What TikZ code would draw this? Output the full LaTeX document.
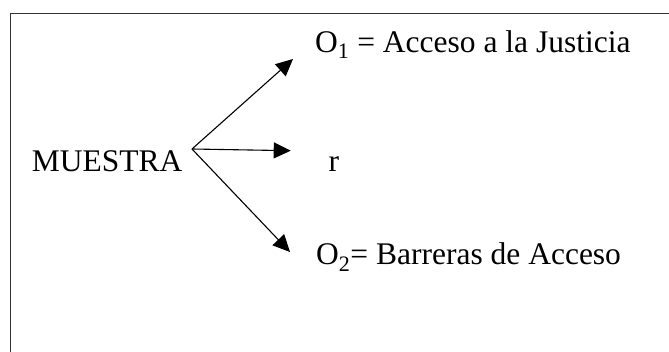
\documentclass[tikz,border=0pt]{standalone}
\usepackage{fontspec}
\setmainfont{Liberation Serif}
\usetikzlibrary{arrows.meta}
\begin{document}
\begin{tikzpicture}[x=1pt,y=-1pt,
    txt/.style={anchor=base west,inner sep=0pt,font=\fontsize{31.5}{38}\selectfont},
    flecha/.style={line width=1.1pt,-{Triangle[length=17pt,width=16pt]}}]
    \useasboundingbox (0,0) rectangle (669,352);
    
    \draw[line width=1.6pt,color=black!80] (10.5,352) -- (10.5,13.5) -- (669,13.5);
    
    \node[txt] (muestra) at (31.7,171.7) {MUESTRA};
    \node[txt] (o1) at (315,53) {O\textsubscript{1} = Acceso a la Justicia};
    \node[txt] (r) at (328.3,171.7) {r};
    \node[txt] (o2) at (316,265) {O\textsubscript{2}= Barreras de Acceso};
    
    \coordinate (src) at (192,149);
    \coordinate (t1) at (293,59);
    \coordinate (t2) at (290.7,150.7);
    \coordinate (t3) at (290,252);
    \foreach \t in {t1,t2,t3}
    \draw[flecha] (src) -- (\t);
   
\end{tikzpicture}
\end{document}
